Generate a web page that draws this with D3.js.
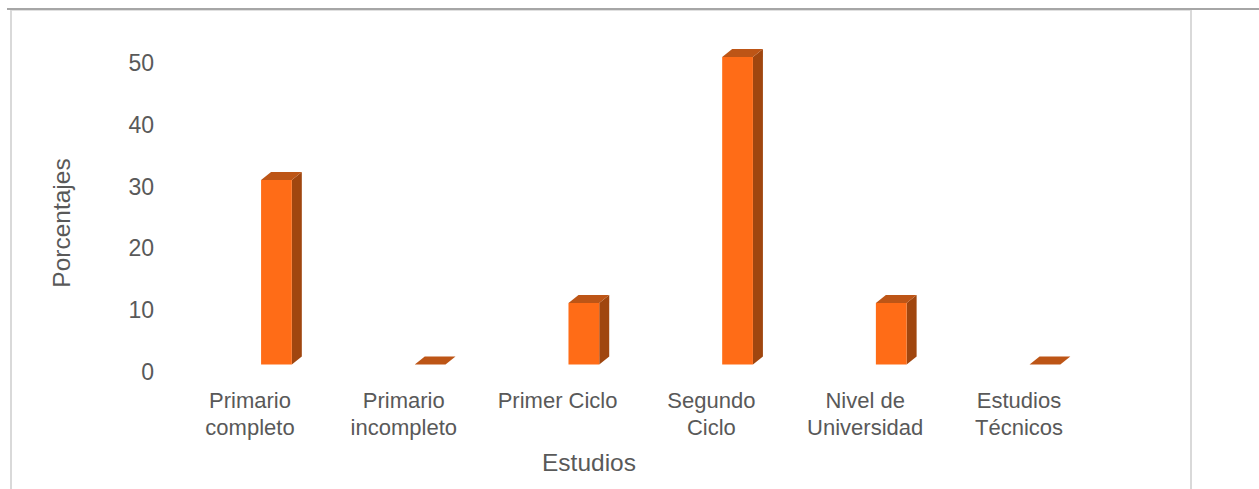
<!DOCTYPE html>
<html>
<head>
<meta charset="utf-8">
<script src="https://cdn.jsdelivr.net/npm/d3@7"></script>
<style>
  html, body { margin: 0; padding: 0; background: #fff; overflow: hidden; }
  svg { display: block; }
  text { font-family: "Liberation Sans", sans-serif; fill: #595959; }
</style>
</head>
<body>
<div id="container"></div>
<script>
/* DATA */
const categories = [
  ["Primario", "completo"],
  ["Primario", "incompleto"],
  ["Primer Ciclo"],
  ["Segundo", "Ciclo"],
  ["Nivel de", "Universidad"],
  ["Estudios", "Técnicos"]
];
const percentages = [30, 0, 10, 50, 10, 0];
const valueTicks = [0, 10, 20, 30, 40, 50];

/* CONSTANTS */
const width = 1259,
  height = 489,
  depthX = 10, // how far the 3d box goes back
  depthY = 8,
  fontSize = 22;

const svg = d3.select("#container").append("svg")
  .attr("width", width)
  .attr("height", height);

/* SCALES */
const ids = d3.range(categories.length);
const xScale = d3.scaleBand().domain(ids).range([199.6, 1121.8]).paddingInner(0.8).paddingOuter(0.4);
const labelX = d3.scalePoint().domain(ids).range([250, 1019]);
const yScale = d3.scaleLinear().domain([0, 50]).range([364.5, 57]);
const tickY = d3.scaleLinear().domain([0, 50]).range([372, 63]); // labels sit on the front of the box

/* FRAME */
svg.append("line").attr("x1", 7).attr("x2", width).attr("y1", 9).attr("y2", 9)
  .attr("stroke", "#a6a6a6").attr("stroke-width", 2);
svg.append("line").attr("x1", 10).attr("x2", 1192).attr("y1", 10.5).attr("y2", 10.5)
  .attr("stroke", "#e0e0e0").attr("stroke-width", 1);
svg.append("line").attr("x1", 11).attr("x2", 11).attr("y1", 10).attr("y2", height)
  .attr("stroke", "#d9d9d9").attr("stroke-width", 2);
svg.append("line").attr("x1", 1191).attr("x2", 1191).attr("y1", 10).attr("y2", height)
  .attr("stroke", "#d9d9d9").attr("stroke-width", 2);

/* BARS */
const bars = svg.append("g").selectAll("g").data(percentages).join("g");

bars.append("path") // side
  .attr("fill", "#a0460f")
  .attr("d", (d, i) => {
    const r = xScale(i) + xScale.bandwidth();
    return `M${r},${yScale(d)}l${depthX},${-depthY}V${yScale(0) - depthY}L${r},${yScale(0)}Z`;
  });

bars.append("path") // top
  .attr("fill", "#bd5516")
  .attr("d", (d, i) => {
    const l = xScale(i), w = xScale.bandwidth();
    return `M${l},${yScale(d)}l${depthX},${-depthY}h${w}l${-depthX},${depthY}Z`;
  });

bars.append("rect") // front
  .attr("fill", "#ff6c17")
  .attr("x", (d, i) => xScale(i))
  .attr("y", d => yScale(d))
  .attr("width", xScale.bandwidth())
  .attr("height", d => yScale(0) - yScale(d));

/* AXES */
svg.append("g").selectAll("text").data(valueTicks).join("text")
  .attr("x", 154)
  .attr("y", d => tickY(d))
  .attr("dy", "0.35em")
  .attr("text-anchor", "end")
  .attr("font-size", fontSize + 1)
  .text(d => d);

const catLabels = svg.append("g").selectAll("text").data(categories).join("text")
  .attr("font-size", fontSize)
  .attr("text-anchor", "middle")
  .attr("y", 408);
catLabels.selectAll("tspan").data((d, i) => d.map(t => ({ t, i }))).join("tspan")
  .attr("x", d => labelX(d.i))
  .attr("dy", (d, j) => j ? 27 : 0)
  .text(d => d.t);

/* TITLES */
svg.append("text")
  .attr("text-anchor", "middle")
  .attr("font-size", fontSize + 2.5)
  .attr("transform", "translate(70,223) rotate(-90)")
  .text("Porcentajes");

svg.append("text")
  .attr("text-anchor", "middle")
  .attr("font-size", fontSize + 2.5)
  .attr("x", 589)
  .attr("y", 471)
  .text("Estudios");
</script>
</body>
</html>
